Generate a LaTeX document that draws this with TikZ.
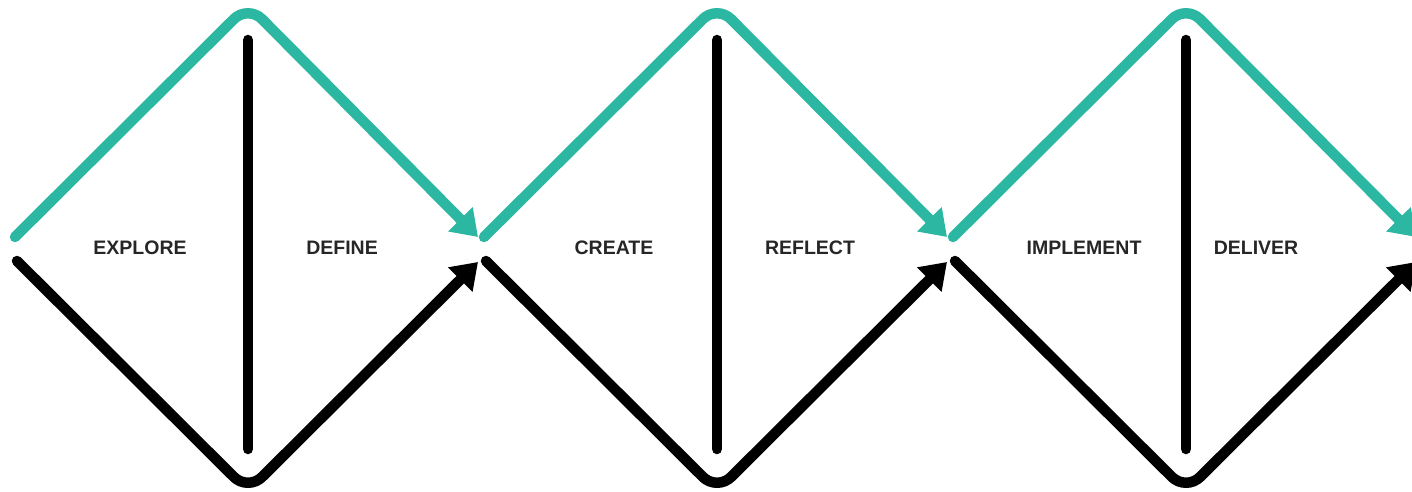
\documentclass[tikz,border=0pt]{standalone}
\usepackage{fontspec}
\setmainfont{Liberation Sans}
\usetikzlibrary{arrows.meta}
\definecolor{tealline}{RGB}{44,183,163}
\tikzset{
  upperpath/.style={draw=tealline, line width=10.5pt, rounded corners=20pt, line cap=round,
    -{Triangle[length=25pt,width=33pt]}},
  lowerpath/.style={draw=black, line width=10.5pt, rounded corners=20pt, line cap=round,
    -{Triangle[length=25pt,width=33pt]}},
  divider/.style={draw=black, line width=10.5pt, line cap=round},
  phase/.style={font=\bfseries\fontsize{19.5}{23}\selectfont, text=black!85, inner sep=0pt}
}
\begin{document}
\begin{tikzpicture}[x=1pt,y=-1pt]
\useasboundingbox (0,0) rectangle (1412,492);
\foreach \i/\dx/\a/\ax/\b/\bx in {0/0/EXPLORE/140/DEFINE/342, 1/469/CREATE/614/REFLECT/810, 2/938/IMPLEMENT/1084/DELIVER/1256} {
  \coordinate (tl\i) at (15+\dx,237);
  \coordinate (tp\i) at (248+\dx,5);
  \coordinate (tr\i) at (478+\dx,237);
  \coordinate (bl\i) at (17+\dx,261);
  \coordinate (bp\i) at (248+\dx,491);
  \coordinate (br\i) at (478+\dx,262);
  \coordinate (vt\i) at (248+\dx,40);
  \coordinate (vb\i) at (248+\dx,449);
  \draw[upperpath] (tl\i) -- (tp\i) -- (tr\i);
  \draw[lowerpath] (bl\i) -- (bp\i) -- (br\i);
  \draw[divider] (vt\i) -- (vb\i);
  \node[phase] (la\i) at (\ax,248) {\a};
  \node[phase] (lb\i) at (\bx,248) {\b};
}
\end{tikzpicture}
\end{document}
